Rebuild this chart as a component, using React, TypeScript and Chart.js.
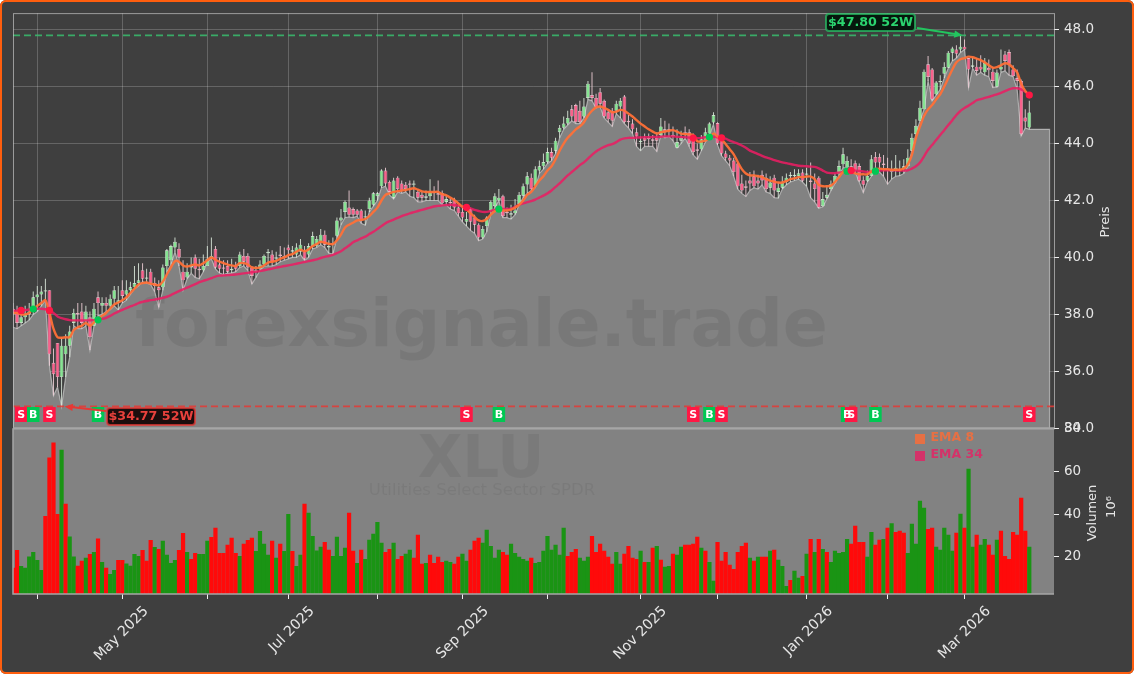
import React, { useEffect, useRef } from "react";
import { Chart, registerables } from "chart.js";

Chart.register(...registerables);

const opens = [
38.2,38.1,37.7,37.9,38.0,38.1,38.6,38.7,38.8,38.85,
36.3,37.0,35.8,36.6,36.9,37.7,38.05,38.1,37.75,37.9,
37.6,38.6,38.3,38.4,38.3,38.55,38.4,38.85,38.7,38.85,
38.95,39.1,39.55,39.25,39.5,39.1,38.95,38.95,39.7,39.9,
40.35,40.3,39.5,39.3,39.65,40.0,39.6,39.55,39.7,39.95,
40.3,39.75,39.65,39.7,39.55,39.7,39.7,40.05,40.05,39.65,
39.5,39.6,39.75,40.15,40.1,39.95,40.1,40.05,40.35,40.2,
40.1,40.2,40.2,40.1,40.4,40.4,40.55,40.8,40.35,40.45,
40.76,41.3,41.6,41.75,41.7,41.65,41.65,41.4,41.7,41.85,
42.15,42.5,43.05,42.65,42.1,42.8,42.6,42.55,42.6,42.55,
42.3,42.2,42.1,42.15,42.3,42.25,42.25,41.95,41.95,42.0,
41.75,41.6,41.25,41.7,41.4,41.15,40.7,41.1,41.65,41.8,
42.0,42.15,41.6,41.5,41.55,41.88,42.17,42.56,42.8,42.5,
43.05,43.2,43.35,43.7,43.75,44.4,44.55,44.7,45.2,45.35,
45.15,44.95,45.6,45.7,45.6,45.8,45.5,45.1,45.15,45.15,
45.3,45.65,44.8,44.7,44.4,44.05,44.2,44.2,44.15,44.2,
44.3,44.5,44.5,44.3,43.85,44.1,44.4,44.4,44.27,43.8,
43.8,44.1,44.35,44.74,44.72,44.2,43.65,43.5,43.4,43.3,
42.6,42.5,42.7,42.85,42.7,42.9,42.8,42.45,42.8,42.3,
42.45,42.65,42.85,42.85,42.86,42.98,42.9,42.7,42.6,42.8,
41.8,42.1,42.4,42.63,42.92,43.27,43.16,43.2,43.31,43.21,
42.71,42.69,42.86,43.53,43.53,43.3,43.1,43.0,43.05,43.05,
43.1,43.21,43.75,44.33,44.8,45.2,46.78,46.6,45.73,46.15,
46.45,46.66,47.19,47.3,47.3,47.4,47.0,46.7,46.7,46.7,
46.5,46.66,46.52,45.99,46.6,47.13,47.21,46.6,46.3,46.2,
44.91,44.56];

const closes = [
38.0,37.7,37.9,38.0,38.1,38.6,38.7,38.8,38.85,36.6,
35.9,35.8,36.9,36.9,37.4,38.05,38.0,37.7,38.1,37.2,
38.2,38.4,38.4,38.3,38.55,38.85,38.5,38.65,38.85,38.95,
39.1,39.2,39.25,39.3,39.1,39.0,38.85,39.65,40.25,40.4,
40.55,40.0,39.2,39.5,39.7,39.6,39.55,39.7,39.95,40.05,
39.65,39.6,39.6,39.5,39.6,39.6,40.1,39.85,39.65,39.35,
39.55,39.75,40.05,40.2,39.85,40.0,40.05,40.0,40.25,40.25,
40.35,40.45,39.95,40.4,40.75,40.65,40.8,40.45,40.4,40.5,
41.3,41.4,41.95,41.5,41.5,41.5,41.3,41.45,42.0,42.25,
42.25,43.05,42.6,42.3,42.7,42.4,42.35,42.4,42.55,42.6,
42.1,42.1,42.15,42.3,42.25,42.2,41.9,42.05,41.9,41.75,
41.55,41.4,41.35,41.25,41.15,40.7,41.0,41.4,41.95,42.15,
42.1,41.45,41.55,41.55,41.65,42.2,42.5,42.85,42.4,43.1,
43.2,43.35,43.7,43.5,44.1,44.55,44.7,44.9,44.95,44.75,
44.75,45.3,46.1,45.6,45.3,45.4,44.95,44.85,44.8,45.4,
45.5,44.75,44.75,44.5,44.25,44.1,44.1,44.15,44.1,44.1,
44.6,44.4,44.45,44.25,44.05,44.2,44.3,44.0,43.7,43.75,
44.15,44.4,44.7,45.0,44.0,43.65,43.5,43.4,43.0,42.5,
42.35,42.45,42.6,42.5,42.6,42.7,42.4,42.63,42.35,42.45,
42.63,42.8,42.9,42.9,42.96,42.69,42.95,42.65,42.4,41.75,
42.05,42.2,42.57,42.86,43.21,43.62,43.39,43.15,43.04,42.69,
42.55,42.86,43.45,43.33,43.33,43.25,43.05,43.1,43.15,43.1,
43.2,43.5,44.2,44.62,45.26,46.52,46.34,45.55,46.14,46.2,
46.69,47.19,47.34,47.15,47.4,47.3,46.6,46.75,46.55,46.6,
46.83,46.57,46.2,46.49,46.7,46.9,46.8,46.37,46.2,44.33,
44.77,45.09];

const highs = [
38.4,38.3,38.1,38.3,38.4,38.8,39.0,39.0,39.25,38.85,
36.8,37.0,37.2,37.3,37.6,38.2,38.4,38.4,38.3,38.1,
38.4,38.8,38.6,38.6,38.7,39.0,39.0,39.2,39.2,39.15,
39.7,39.8,39.8,39.6,39.6,39.3,39.2,39.75,40.3,40.45,
40.7,40.5,39.9,39.8,40.0,40.1,39.95,40.1,40.4,40.7,
40.4,40.0,39.9,39.9,39.95,39.85,40.2,40.3,40.15,39.7,
39.7,39.9,40.1,40.3,40.25,40.2,40.4,40.35,40.45,40.4,
40.5,40.65,40.4,40.5,40.9,40.75,41.0,40.95,40.6,40.7,
41.4,41.7,42.0,42.35,41.75,41.7,41.7,41.65,42.1,42.3,
42.3,43.1,43.15,42.7,42.8,42.85,42.7,42.65,42.7,42.7,
42.4,42.3,42.35,42.75,42.5,42.7,42.35,42.2,42.1,42.1,
41.85,41.8,41.6,41.75,41.5,41.2,41.1,41.45,42.0,42.25,
42.4,42.2,41.75,41.85,42.05,42.3,42.6,43.0,42.95,43.2,
43.4,43.65,43.85,43.85,44.2,44.65,44.95,45.15,45.35,45.4,
45.5,45.6,46.2,46.5,45.75,45.95,45.55,45.2,45.25,45.5,
45.6,45.7,45.0,44.85,44.55,44.25,44.35,44.35,44.3,44.4,
44.9,44.8,44.7,44.6,44.5,44.45,44.6,44.5,44.35,44.0,
44.3,44.55,44.75,45.1,44.75,44.25,43.75,43.6,43.5,43.35,
42.9,42.7,43.0,43.05,42.9,43.05,42.95,42.85,42.9,42.65,
42.85,42.95,43.0,43.1,43.1,43.1,43.15,43.33,42.95,42.85,
42.3,42.5,42.7,42.95,43.4,43.85,43.55,43.45,43.4,43.3,
42.85,43.05,43.6,43.7,43.65,43.6,43.5,43.4,43.6,43.4,
43.45,43.8,44.35,44.85,45.5,46.6,47.07,46.65,46.2,46.4,
46.85,47.25,47.4,47.45,47.8,47.65,47.0,47.05,47.0,47.1,
47.0,46.95,46.7,46.6,47.3,47.25,47.3,46.75,46.6,46.25,
45.2,45.5];

const lows = [
37.55,37.5,37.6,37.7,37.8,38.0,38.1,38.3,38.5,36.2,
35.15,35.45,34.77,35.8,36.5,37.6,37.5,37.5,37.6,36.75,
37.6,37.95,38.0,38.1,38.16,38.3,38.16,38.4,38.5,38.7,
38.9,39.0,39.15,39.1,39.05,38.8,38.25,38.85,39.5,39.75,
40.2,39.7,38.85,39.25,39.45,39.3,39.25,39.5,39.85,39.95,
39.6,39.45,39.4,39.45,39.45,39.5,39.65,39.7,39.55,39.07,
39.3,39.55,39.7,39.7,39.7,39.75,39.85,39.9,39.95,40.0,
40.0,40.1,39.9,40.0,40.3,40.35,40.45,40.35,40.15,40.12,
40.7,41.15,41.4,41.42,41.4,41.45,41.2,41.13,41.6,41.8,
42.0,42.45,42.5,42.2,42.05,42.3,42.25,42.3,42.15,42.1,
41.95,41.95,42.0,42.0,42.0,42.0,41.85,41.85,41.7,41.65,
41.45,41.25,41.1,40.95,40.85,40.59,40.65,40.9,41.5,41.75,
42.0,41.4,41.4,41.35,41.5,41.85,42.1,42.25,42.35,42.45,
42.95,43.1,43.3,43.4,43.65,44.2,44.5,44.65,44.8,44.7,
44.7,44.9,45.55,45.5,45.25,45.3,44.9,44.75,44.6,45.05,
44.9,44.7,44.55,44.35,43.9,43.75,43.9,43.9,43.9,43.72,
44.3,44.2,44.25,44.1,43.84,44.0,44.2,43.9,43.6,43.45,
43.75,44.05,44.3,44.68,43.95,43.57,43.4,43.22,42.85,42.4,
42.25,42.14,42.35,42.45,42.4,42.55,42.3,42.25,42.1,42.08,
42.4,42.55,42.65,42.7,42.75,42.65,42.5,42.1,41.95,41.73,
41.78,42.05,42.34,42.6,42.9,43.15,43.15,42.95,43.0,42.65,
42.28,42.65,42.85,43.15,43.0,42.85,42.57,42.75,42.85,42.87,
42.95,43.2,43.75,44.33,44.8,45.2,46.2,45.5,45.7,45.9,
46.3,46.65,46.9,47.0,47.2,47.3,45.96,46.65,46.4,46.5,
46.4,46.35,45.96,45.98,46.5,46.55,46.4,46.35,45.9,44.27,
44.55,44.5];

const ema8 = [
38.05,38.05,38.0,38.0,38.05,38.2,38.3,38.4,38.5,38.05,
37.5,37.2,37.18,37.2,37.2,37.45,37.55,37.6,37.7,37.6,
37.72,37.85,37.95,38.05,38.2,38.35,38.42,38.5,38.6,38.75,
38.9,39.05,39.1,39.12,39.08,39.05,39.02,39.15,39.4,39.65,
39.87,39.85,39.72,39.68,39.72,39.75,39.72,39.8,39.9,40.0,
39.92,39.85,39.8,39.75,39.72,39.7,39.8,39.8,39.75,39.65,
39.63,39.65,39.72,39.82,39.85,39.88,39.95,40.0,40.08,40.12,
40.2,40.27,40.22,40.28,40.4,40.47,40.55,40.52,40.48,40.47,
40.6,40.8,41.05,41.15,41.22,41.3,41.32,41.35,41.45,41.6,
41.75,42.0,42.2,42.25,42.3,42.33,42.35,42.37,42.4,42.43,
42.38,42.32,42.3,42.3,42.3,42.3,42.22,42.18,42.1,42.02,
41.9,41.78,41.68,41.55,41.42,41.3,41.28,41.35,41.5,41.62,
41.68,41.65,41.65,41.68,41.75,41.85,42.0,42.2,42.3,42.5,
42.7,42.85,43.05,43.2,43.45,43.75,44.0,44.2,44.35,44.5,
44.6,44.75,44.98,45.15,45.27,45.3,45.25,45.18,45.1,45.12,
45.18,45.15,45.05,44.95,44.82,44.7,44.6,44.5,44.42,44.35,
44.4,44.42,44.45,44.47,44.42,44.35,44.33,44.32,44.3,44.08,
44.07,44.1,44.2,44.35,44.25,44.15,43.98,43.8,43.62,43.35,
43.1,42.95,42.88,42.88,42.85,42.82,42.75,42.7,42.66,42.63,
42.63,42.68,42.75,42.78,42.82,42.82,42.84,42.84,42.75,42.55,
42.5,42.5,42.52,42.65,42.82,43.0,43.06,43.02,42.95,42.92,
42.92,42.92,43.02,43.1,43.12,43.1,43.1,43.08,43.08,43.08,
43.12,43.27,43.6,44.2,44.6,44.97,45.2,45.35,45.55,45.73,
46.0,46.3,46.6,46.85,46.96,47.0,47.05,47.03,46.98,46.93,
46.85,46.75,46.66,46.68,46.75,46.82,46.78,46.65,46.5,46.1,
45.85,45.7];

const ema34 = [
38.12,38.13,38.14,38.15,38.17,38.19,38.2,38.2,38.18,38.14,
38.05,37.93,37.87,37.83,37.8,37.79,37.79,37.79,37.79,37.79,
37.8,37.81,37.84,37.88,37.95,38.03,38.1,38.16,38.22,38.28,
38.33,38.4,38.44,38.47,38.5,38.52,38.55,38.58,38.62,38.68,
38.75,38.82,38.88,38.94,39.0,39.06,39.13,39.18,39.22,39.27,
39.33,39.36,39.37,39.38,39.39,39.4,39.42,39.44,39.46,39.48,
39.5,39.52,39.55,39.58,39.61,39.64,39.67,39.7,39.72,39.75,
39.78,39.81,39.84,39.87,39.9,39.93,39.98,40.02,40.05,40.09,
40.15,40.22,40.32,40.42,40.53,40.6,40.67,40.73,40.82,40.9,
41.0,41.1,41.2,41.27,41.33,41.39,41.45,41.5,41.55,41.59,
41.63,41.67,41.71,41.75,41.79,41.81,41.83,41.84,41.85,41.84,
41.82,41.79,41.76,41.72,41.67,41.63,41.6,41.6,41.63,41.67,
41.7,41.7,41.7,41.71,41.78,41.85,41.9,41.94,41.98,42.03,
42.1,42.17,42.25,42.35,42.48,42.6,42.74,42.88,43.0,43.12,
43.24,43.34,43.47,43.6,43.72,43.81,43.88,43.94,43.98,44.05,
44.14,44.18,44.2,44.2,44.21,44.21,44.22,44.22,44.23,44.23,
44.24,44.25,44.25,44.25,44.24,44.23,44.22,44.21,44.19,44.19,
44.2,44.22,44.23,44.24,44.22,44.2,44.17,44.1,44.05,44.0,
43.93,43.85,43.75,43.69,43.63,43.57,43.51,43.47,43.42,43.38,
43.34,43.31,43.28,43.25,43.22,43.21,43.2,43.19,43.18,43.13,
43.05,42.98,42.96,42.96,42.98,43.0,43.03,43.05,43.05,43.04,
43.02,43.0,43.01,43.03,43.05,43.06,43.06,43.06,43.06,43.05,
43.05,43.06,43.12,43.2,43.33,43.55,43.78,43.95,44.12,44.3,
44.47,44.65,44.82,45.0,45.15,45.25,45.33,45.42,45.52,45.56,
45.6,45.64,45.68,45.73,45.78,45.84,45.9,45.94,45.94,45.9,
45.82,45.7];

const volumes = [
14.8,23.1,15.6,14.8,20,22.2,18.4,13.7,39.1,66.6,
73.6,40,70.2,44.8,29.4,20,15.7,18,19.5,21.2,
22.2,28.5,17.5,14.8,11.8,13.7,18.4,18.4,16.7,15.7,
21.2,20.3,23.1,18,27.8,24.5,23.6,27.4,20.8,17,
18.4,23.1,31.1,22.2,18.9,21.7,21.2,21.2,27.4,29.2,
33.5,21.7,21.7,25.5,28.8,21.7,20.3,26,27.8,28.8,
22.6,32,26,20.8,27.4,19.4,26,22.6,40,22.6,
15.6,20.8,44.8,40.6,29.7,22.8,24.6,26.9,23.2,20.3,
29.3,20.3,24.1,40.6,22.7,17,23.2,18.9,27.9,30.7,
36.3,26.5,22.2,23.6,26.5,18.9,20.3,21.3,23.2,19.4,
30.2,16.6,17,20.8,17,19.9,17.5,18,17.5,16.6,
19.9,21.3,18,23.2,27.4,28.8,26.5,32.6,25,19.4,
23.2,22.2,20.8,26,21.7,19.9,18.9,18,19.4,17,
17.5,22.7,29.7,23.2,25.5,20.8,33.5,20.3,22.2,23.6,
19.4,18,19.9,29.7,22.2,26,22.7,19.9,16.6,22.2,
16.6,21.3,25,19.4,18.9,22.7,17.5,17.5,24.1,25,
18.5,15.2,15.6,21.3,20.8,24.6,25.5,25.5,26,29.3,
24.1,22.7,17.5,8.6,26.9,18,22.2,16.1,14.2,22.2,
25,26.5,19.4,18,19.9,19.9,19.9,22.7,23.2,18.5,
15.6,6.2,9,13.3,10,10.9,21.3,28.3,22.2,28.3,
23.6,22.2,17.5,22.7,21.7,22.2,28.3,26,34.5,26.9,
26.9,19.9,31.6,25.5,27.9,28.3,33.5,35.7,31.6,32.1,
31.2,21.7,35.4,26,46.2,42.9,33,33.5,24.6,23.2,
33.5,30.2,22.7,31.2,40.1,33.5,61.3,24.6,30.2,25.5,
28.3,25.5,20.8,27.9,32.1,20.3,18.9,31.6,30.2,47.6,
32.1,24.6];

const volumeSides =
  "rrggggggrr" + "rrgrggrrgr" + "grgrggrrgg" + "ggrrrgrggg" + "grrgrrgggr" +
  "rrrrrrgrrr" + "ggggrgrggr" + "ggrggggrrg" + "gggrrgrggg" + "ggrrgrrggr" +
  "rrgrrrrggr" + "rggrrrgggg" + "grrgggggrg" + "gggggggrrr" + "gggrrrrrrg" +
  "grrrrgrgrg" + "rggrggrrrr" + "grggrrrrrr" + "rrgrgrrgrg" + "ggrggrgrgr" +
  "grgggggrrr" + "rggrrgrgrr" + "rgggggrrgg" + "gggrgrggrg" + "grrgrrrrrr" + "rg";

const signalBars = [2, 5, 9, 21, 112, 120, 168, 172, 175, 206, 207, 213, 251];
const signalKinds = ["S", "B", "S", "B", "S", "B", "S", "B", "S", "B", "S", "B", "S"];

const tickBars = [6, 27, 48, 68, 90, 111, 132, 155, 174, 196, 216, 235];
const tickLabels = ["", "May 2025", "", "Jul 2025", "", "Sep 2025", "", "Nov 2025", "", "Jan 2026", "", "Mar 2026"];
const priceTicks = [34, 36, 38, 40, 42, 44, 46, 48];
const volumeTicks = [20, 40, 60, 80];

const high52w = 47.8;
const low52w = 34.77;
const lastBar = 256;
const lastLow = 44.5;

const FONT = '"DejaVu Sans", sans-serif';
const TEXT = "#e6e6e6";
const SELL = "#ff1744";
const BUY = "#00c853";

function tag(ctx: any, text: string, x: number, y: number, w: number, h: number, fill: string, stroke: string, color: string) {
  ctx.save();
  ctx.beginPath();
  ctx.roundRect(x, y, w, h, 3);
  ctx.fillStyle = fill;
  ctx.fill();
  ctx.lineWidth = 2;
  ctx.strokeStyle = stroke;
  ctx.stroke();
  ctx.fillStyle = color;
  ctx.font = `bold 12.7px ${FONT}`;
  ctx.textAlign = "center";
  ctx.textBaseline = "middle";
  ctx.fillText(text, x + w / 2, y + h / 2 + 0.5);
  ctx.restore();
}

function arrow(ctx: any, x0: number, y0: number, x1: number, y1: number, color: string) {
  const a = Math.atan2(y1 - y0, x1 - x0);
  ctx.save();
  ctx.strokeStyle = color;
  ctx.fillStyle = color;
  ctx.lineWidth = 2;
  ctx.beginPath();
  ctx.moveTo(x0, y0);
  ctx.lineTo(x1 - 6 * Math.cos(a), y1 - 6 * Math.sin(a));
  ctx.stroke();
  ctx.beginPath();
  ctx.moveTo(x1, y1);
  ctx.lineTo(x1 - 9 * Math.cos(a - 0.42), y1 - 9 * Math.sin(a - 0.42));
  ctx.lineTo(x1 - 9 * Math.cos(a + 0.42), y1 - 9 * Math.sin(a + 0.42));
  ctx.closePath();
  ctx.fill();
  ctx.restore();
}

function rotatedText(ctx: any, text: string, x: number, y: number) {
  ctx.save();
  ctx.translate(x, y);
  ctx.rotate(-Math.PI / 2);
  ctx.fillStyle = TEXT;
  ctx.font = `13px ${FONT}`;
  ctx.textAlign = "center";
  ctx.textBaseline = "middle";
  ctx.fillText(text, 0, 0);
  ctx.restore();
}

const overlay = {
  id: "overlay",
  beforeDatasetsDraw(chart: any) {
    const { ctx, scales } = chart;
    const { x, yv } = scales;
    ctx.save();
    ctx.fillStyle = "#828282";
    ctx.fillRect(x.left, yv.top, x.right - x.left, yv.bottom - yv.top);
    ctx.textAlign = "center";
    ctx.textBaseline = "middle";
    ctx.fillStyle = "rgba(0,0,0,0.055)";
    ctx.font = `bold 58px ${FONT}`;
    ctx.fillText("XLU", 481, 462);
    ctx.font = `16.5px ${FONT}`;
    ctx.fillText("Utilities Select Sector SPDR", 482, 491);
    ctx.restore();
  },
  afterDatasetDraw(chart: any, args: any) {
    if (args.index !== 0) return;
    const { ctx } = chart;
    ctx.save();
    ctx.textAlign = "center";
    ctx.textBaseline = "middle";
    ctx.fillStyle = "rgba(0,0,0,0.07)";
    ctx.font = `bold 66.5px ${FONT}`;
    ctx.fillText("forexsignale.trade", 481.5, 329);
    ctx.restore();
  },
  afterDatasetsDraw(chart: any) {
    const { ctx, scales } = chart;
    const { x, y, yv } = scales;
    ctx.save();
    ctx.strokeStyle = "rgba(205,205,205,0.65)";
    ctx.lineWidth = 1;
    ctx.strokeRect(x.left + 0.5, y.top + 0.5, x.right - x.left, y.bottom - y.top);
    ctx.strokeStyle = "#a6a6a6";
    ctx.lineWidth = 2;
    ctx.beginPath();
    ctx.moveTo(x.left, y.bottom);
    ctx.lineTo(x.right, y.bottom);
    ctx.stroke();
    ctx.lineWidth = 1.5;
    ctx.beginPath();
    ctx.moveTo(x.left, yv.top);
    ctx.lineTo(x.left, yv.bottom);
    ctx.lineTo(x.right, yv.bottom);
    ctx.stroke();
    ctx.fillStyle = "#fff";
    ctx.font = `bold 11px ${FONT}`;
    ctx.textAlign = "center";
    ctx.textBaseline = "middle";
    signalBars.forEach((bar, i) => {
      ctx.fillText(signalKinds[i], x.getPixelForValue(bar), y.getPixelForValue(34.485) + 0.5);
    });
    const hiX = x.getPixelForValue(234);
    const hiY = y.getPixelForValue(high52w);
    arrow(ctx, 917, 28, hiX + 2, hiY, "#22c55e");
    tag(ctx, `$${high52w.toFixed(2)} 52W`, 826, 14, 89, 17, "#06170d", "rgba(40,190,100,0.75)", "#2bd46f");
    const loX = x.getPixelForValue(12);
    const loY = y.getPixelForValue(low52w);
    arrow(ctx, 106, 411, loX + 3, loY, "#e53935");
    tag(ctx, `$${low52w.toFixed(2)} 52W`, 107, 408, 88, 17, "#1b0d0d", "rgba(229,57,53,0.75)", "#e8413c");
    ctx.font = `bold 12.5px ${FONT}`;
    ctx.textAlign = "left";
    ctx.textBaseline = "middle";
    ctx.fillStyle = "rgba(255,107,53,0.8)";
    ctx.fillRect(915, 434, 10, 10);
    ctx.fillText("EMA 8", 930.5, 438);
    ctx.fillStyle = "rgba(233,30,99,0.8)";
    ctx.fillRect(915, 451, 10, 10);
    ctx.fillText("EMA 34", 930.5, 455);
    rotatedText(ctx, "Preis", 1106, 222);
    rotatedText(ctx, "Volumen", 1093, 513);
    rotatedText(ctx, "10⁶", 1112, 507);
    ctx.restore();
  },
};

const range = (n: number) => Array.from({ length: n }, (_, i) => i);

export default function App() {
  const ref = useRef<HTMLCanvasElement | null>(null);

  useEffect(() => {
    const bars = range(closes.length);
    const isUp = (i: number) => closes[i] >= opens[i];
    const sideColor = (k: string) => (k === "S" ? SELL : BUY);
    const chart = new Chart(ref.current as any, {
      type: "bar",
      plugins: [overlay as any],
      data: {
        datasets: [
          {
            type: "line",
            label: "Low",
            order: 100,
            yAxisID: "y",
            data: [
              ...bars.map((i) => ({ x: i, y: lows[i] })),
              { x: lastBar, y: lastLow },
              { x: lastBar, y: priceTicks[0] },
            ],
            borderColor: "rgba(205,205,205,0.7)",
            borderWidth: 1.2,
            backgroundColor: "#828282",
            fill: "start",
            pointRadius: 0,
            tension: 0,
          },
          {
            type: "bar",
            label: "Wick",
            order: 90,
            yAxisID: "y",
            grouped: false,
            barThickness: 1,
            inflateAmount: 0,
            borderSkipped: false,
            data: bars.map((i) => ({ x: i, y: [lows[i], highs[i]] })),
            backgroundColor: bars.map((i) => (isUp(i) ? "rgba(225,238,225,0.85)" : "rgba(245,212,220,0.85)")),
          },
          {
            type: "bar",
            label: "Body",
            order: 80,
            yAxisID: "y",
            grouped: false,
            barThickness: 3.7,
            inflateAmount: 0,
            borderSkipped: false,
            borderWidth: 0.6,
            data: bars.map((i) => ({ x: i, y: [opens[i], closes[i]] })),
            backgroundColor: bars.map((i) => (isUp(i) ? "#86e492" : "#f8628c")),
            borderColor: bars.map((i) => (isUp(i) ? "#eef8ee" : "#fbd6e0")),
          },
          {
            type: "bar",
            label: "Volumen",
            order: 75,
            yAxisID: "yv",
            grouped: false,
            barThickness: 4.2,
            inflateAmount: 0,
            data: bars.map((i) => ({ x: i, y: volumes[i] })),
            backgroundColor: bars.map((i) => (volumeSides[i] === "r" ? "#ff0a0a" : "#1a9414")),
          },
          {
            type: "line",
            label: "52W High",
            order: 70,
            yAxisID: "y",
            data: [{ x: 0, y: high52w }, { x: 258, y: high52w }],
            borderColor: "rgba(56,190,110,0.85)",
            borderWidth: 1.8,
            borderDash: [7, 4],
            pointRadius: 0,
          },
          {
            type: "line",
            label: "52W Low",
            order: 70,
            yAxisID: "y",
            data: [{ x: 0, y: low52w }, { x: 258, y: low52w }],
            borderColor: "rgba(229,57,53,0.85)",
            borderWidth: 1.8,
            borderDash: [7, 4],
            pointRadius: 0,
          },
          {
            type: "line",
            label: "EMA 34",
            order: 50,
            yAxisID: "y",
            data: bars.map((i) => ({ x: i, y: ema34[i] })),
            borderColor: "rgba(233,30,99,0.88)",
            borderWidth: 2.4,
            pointRadius: 0,
            tension: 0.3,
          },
          {
            type: "line",
            label: "EMA 8",
            order: 40,
            yAxisID: "y",
            data: bars.map((i) => ({ x: i, y: ema8[i] })),
            borderColor: "rgba(255,112,55,0.95)",
            borderWidth: 2.4,
            pointRadius: 0,
            tension: 0.3,
          },
          {
            type: "scatter",
            label: "Cross",
            order: 30,
            yAxisID: "y",
            data: signalBars.map((b) => ({ x: b, y: ema34[b] })),
            pointRadius: 3.6,
            pointBorderWidth: 0,
            backgroundColor: signalKinds.map(sideColor),
          },
          {
            type: "bar",
            label: "Signal",
            order: 20,
            yAxisID: "y",
            grouped: false,
            barThickness: 12.5,
            inflateAmount: 0,
            data: signalBars.map((b) => ({ x: b, y: [34.22, 34.75] })),
            backgroundColor: signalKinds.map(sideColor),
          },
        ] as any,
      },
      options: {
        animation: false,
        responsive: false,
        devicePixelRatio: 1,
        events: [],
        layout: { padding: { left: 13, top: 12, right: 0, bottom: 0 } },
        plugins: { legend: { display: false }, tooltip: { enabled: false } },
        scales: {
          x: {
            type: "linear",
            position: "bottom",
            min: 0,
            max: 257.1,
            offset: false,
            afterBuildTicks: (s: any) => {
              s.ticks = tickBars.map((value) => ({ value }));
            },
            afterFit: (s: any) => {
              s.height = 80;
              s.paddingLeft = 0;
              s.paddingRight = 0;
            },
            grid: { offset: false, color: "rgba(255,255,255,0.2)", tickColor: "#f0f0f0", tickLength: 5 },
            border: { display: false },
            ticks: {
              autoSkip: false,
              minRotation: 45,
              maxRotation: 45,
              padding: 4,
              labelOffset: 24,
              color: TEXT,
              font: { family: FONT, size: 14.2 },
              callback: (v: any) => tickLabels[tickBars.indexOf(v)] ?? "",
            },
          },
          y: {
            type: "linear",
            position: "right",
            stack: "panels",
            stackWeight: 416,
            min: 34,
            max: 48.58,
            afterBuildTicks: (s: any) => {
              s.ticks = priceTicks.map((value) => ({ value }));
            },
            afterFit: (s: any) => {
              s.width = 80;
            },
            grid: { color: "rgba(255,255,255,0.2)", tickColor: "#f0f0f0", tickLength: 5 },
            border: { display: false },
            ticks: {
              padding: 5,
              color: TEXT,
              font: { family: FONT, size: 13.5 },
              callback: (v: any) => Number(v).toFixed(1),
            },
          },
          yv: {
            type: "linear",
            axis: "y",
            position: "right",
            stack: "panels",
            stackWeight: 166,
            min: 2.4,
            max: 80.3,
            afterBuildTicks: (s: any) => {
              s.ticks = volumeTicks.map((value) => ({ value }));
            },
            afterFit: (s: any) => {
              s.width = 80;
            },
            grid: { drawOnChartArea: false, tickColor: "#f0f0f0", tickLength: 5 },
            border: { display: false },
            ticks: {
              padding: 5,
              color: TEXT,
              font: { family: FONT, size: 13.5 },
              callback: (v: any) => String(v),
            },
          },
        },
      } as any,
    });
    return () => chart.destroy();
  }, []);

  return (
    <div
      style={{
        position: "relative",
        width: 1134,
        height: 674,
        background: "#3f3f3f",
        borderRadius: 6,
        overflow: "hidden",
        boxShadow: "inset 0 0 0 2px #ff5e0e",
      }}
    >
      <style>{"html,body{margin:0;padding:0;background:#fff;overflow:hidden}"}</style>
      <canvas ref={ref} width={1134} height={674} style={{ position: "absolute", left: 0, top: 0, display: "block" }} />
    </div>
  );
}
